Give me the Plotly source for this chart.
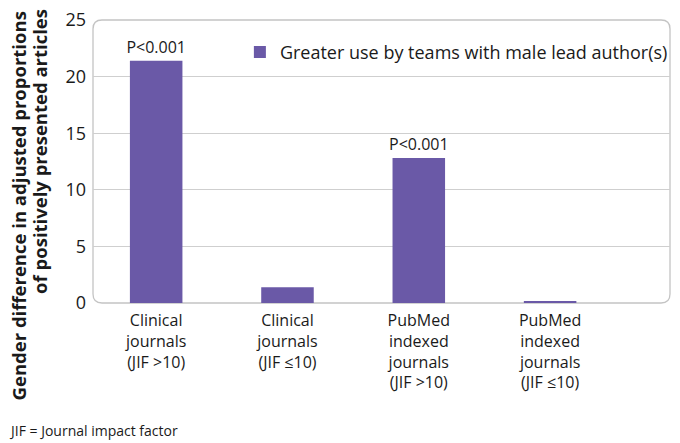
import plotly.graph_objects as go

categories = [
    "Clinical<br>journals<br>(JIF >10)",
    "Clinical<br>journals<br>(JIF ≤10)",
    "PubMed<br>indexed<br>journals<br>(JIF >10)",
    "PubMed<br>indexed<br>journals<br>(JIF ≤10)",
]
values = [21.4, 1.4, 12.8, 0.1]
p_labels = ["P<0.001", "", "P<0.001", ""]
series_name = "Greater use by teams with male lead author(s)"
y_ticks = [0, 5, 10, 15, 20, 25]
y_title_lines = ["Gender difference in adjusted proportions", "of positively presented articles"]
footnote = "JIF = Journal impact factor"

BAR = "#6a59a7"
TXT = "#1a1a1a"
FONT = "Open Sans"

W, H = 680, 443
ML, MR, MT, MB = 93, 7, 17, 140
PW, PH = W - ML - MR, H - MT - MB


def px_x(x):
    return (x - ML) / PW


def px_y(y):
    return (H - MB - y) / PH


fig = go.Figure()
fig.add_trace(go.Bar(
    x=list(range(len(categories))), y=values, name=series_name,
    marker=dict(color=BAR, line=dict(width=0)), width=0.4,
    text=p_labels, textposition="outside", cliponaxis=False,
    constraintext="none",
    textfont=dict(size=16, color=TXT, family=FONT),
))

# rounded plot frame
rx, ry = 9 / PW, 9 / PH
path = (f"M {rx} 0 L {1-rx} 0 Q 1 0 1 {ry} L 1 {1-ry} Q 1 1 {1-rx} 1 "
        f"L {rx} 1 Q 0 1 0 {1-ry} L 0 {ry} Q 0 0 {rx} 0 Z")
fig.add_shape(type="path", xref="paper", yref="paper", path=path,
              line=dict(color="#c4c4c4", width=1.3), layer="below")

# two-line bold y title, lines ending at the top
for line, xc, yc in zip(y_title_lines, [18, 39], [205, 150]):
    fig.add_annotation(
        text=f"<b>{line}</b>", xref="paper", yref="paper",
        x=px_x(xc), y=px_y(yc),
        textangle=-90, showarrow=False, xanchor="center", yanchor="middle",
        font=dict(size=18.5, color=TXT, family=FONT),
    )
fig.add_annotation(
    text=footnote, xref="paper", yref="paper",
    x=px_x(7), y=px_y(432), xanchor="left", yanchor="middle",
    showarrow=False, font=dict(size=14, color=TXT, family=FONT),
)

fig.update_layout(
    width=W, height=H, margin=dict(l=ML, r=MR, t=MT, b=MB),
    paper_bgcolor="white", plot_bgcolor="rgba(0,0,0,0)",
    font=dict(family=FONT, color=TXT, size=16),
    showlegend=True,
    legend=dict(x=1.005, y=px_y(31), xanchor="right", yanchor="top",
                bgcolor="rgba(0,0,0,0)", font=dict(size=18, color=TXT),
                itemwidth=30, tracegroupgap=0, borderwidth=0),
)
fig.update_xaxes(
    range=[-0.481, 3.913], tickmode="array",
    tickvals=list(range(len(categories))), ticktext=categories,
    showgrid=False, zeroline=False, showline=False, ticks="",
    tickfont=dict(size=16, color=TXT, family=FONT), ticklabelstandoff=6,
)
fig.update_yaxes(
    range=[0, 25], tickvals=y_ticks, showgrid=True, gridcolor="#cfcfcf",
    gridwidth=1, zeroline=False, showline=False, ticks="",
    tickfont=dict(size=18, color=TXT, family=FONT), ticklabelstandoff=6,
)

fig.write_html("out.html", config={"displayModeBar": False},
               post_script="document.body.style.margin='0';")
